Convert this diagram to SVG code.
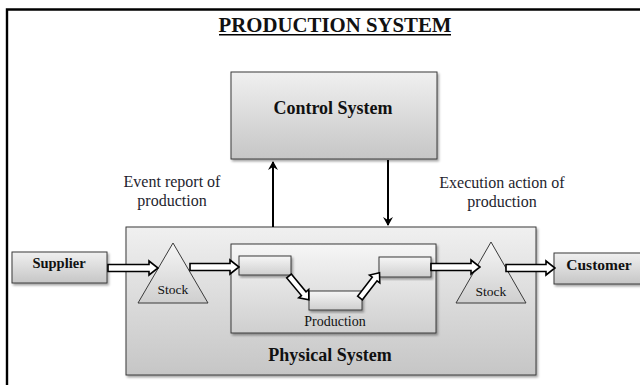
<svg xmlns="http://www.w3.org/2000/svg" width="640" height="385" viewBox="0 0 640 385">
<style>
.box{stroke:#3a3a3a;stroke-width:1;}
.t{font-family:"Liberation Serif","Times New Roman",serif;fill:#111;}
.b{font-weight:bold;}
.lbl{font-family:"Liberation Serif","Times New Roman",serif;fill:#1e1e2e;font-size:16px;}
.blk{fill:#fff;stroke:#000;stroke-width:1.6;stroke-linejoin:miter;}
.thin{stroke:#000;stroke-width:2;fill:none;}
</style>
<defs>
<linearGradient id="g" x1="0" y1="0" x2="0" y2="1">
<stop offset="0" stop-color="#f0f0f0"/>
<stop offset="1" stop-color="#c6c6c6"/>
</linearGradient>
<linearGradient id="g2" x1="0" y1="0" x2="0" y2="1">
<stop offset="0" stop-color="#f6f6f6"/>
<stop offset="1" stop-color="#cfcfcf"/>
</linearGradient>
<filter id="sh" x="-10%" y="-10%" width="125%" height="130%">
<feDropShadow dx="1.5" dy="2" stdDeviation="1.2" flood-color="#000" flood-opacity="0.35"/>
</filter>
<marker id="ah" markerWidth="10" markerHeight="10" refX="8" refY="5" orient="auto" markerUnits="userSpaceOnUse">
<path d="M0,0 L9,5 L0,10 L3,5 Z" fill="#000"/>
</marker>
</defs>
<rect x="0" y="0" width="640" height="385" fill="#fff"/>
<g id="frame">
<path d="M7,385 L7,9.5 L640,9.5" fill="none" stroke="#000" stroke-width="2.4"/>
</g>
<g id="title">
<text class="t b" x="335" y="32" font-size="20.8" text-anchor="middle">PRODUCTION SYSTEM</text>
<line x1="219" y1="34.8" x2="451" y2="34.8" stroke="#000" stroke-width="1.5"/>
</g>
<g id="control-system">
<rect class="box" x="231" y="72" width="206" height="87" fill="url(#g)" filter="url(#sh)"/>
<text class="t b" x="333" y="114" font-size="18" text-anchor="middle">Control System</text>
</g>
<g id="physical-system">
<rect class="box" x="126" y="227" width="410" height="148" fill="url(#g)" filter="url(#sh)"/>
<text class="t b" x="330" y="361" font-size="18" text-anchor="middle">Physical System</text>
</g>
<g id="production">
<rect class="box" x="231" y="244" width="205" height="89" fill="url(#g2)" filter="url(#sh)"/>
<text class="t" x="335" y="326" font-size="14" text-anchor="middle">Production</text>
</g>
<g id="process-1"><rect class="box" x="239" y="256" width="52" height="19" fill="url(#g2)" filter="url(#sh)"/></g>
<g id="process-2"><rect class="box" x="309" y="291" width="53" height="19" fill="url(#g2)" filter="url(#sh)"/></g>
<g id="process-3"><rect class="box" x="379" y="257" width="52" height="20" fill="url(#g2)" filter="url(#sh)"/></g>
<g id="stock-left">
<polygon class="box" points="173,243 208,303 138,303" fill="url(#g2)"/>
<text class="t" x="173" y="294" font-size="13.5" text-anchor="middle">Stock</text>
</g>
<g id="stock-right">
<polygon class="box" points="491,242 526,303 456,303" fill="url(#g2)"/>
<text class="t" x="491" y="296" font-size="13.5" text-anchor="middle">Stock</text>
</g>
<g id="supplier">
<rect class="box" x="12" y="252" width="95" height="31" fill="url(#g)" filter="url(#sh)"/>
<text class="t b" x="59" y="268" font-size="14.5" text-anchor="middle">Supplier</text>
</g>
<g id="customer">
<rect class="box" x="554" y="253" width="92" height="31" fill="url(#g)" filter="url(#sh)"/>
<text class="t b" x="599" y="270" font-size="15.5" text-anchor="middle">Customer</text>
</g>
<g id="labels">
<text class="lbl" x="172" y="187" text-anchor="middle">Event report of</text>
<text class="lbl" x="172" y="206" text-anchor="middle">production</text>
<text class="lbl" x="502" y="188" text-anchor="middle">Execution action of</text>
<text class="lbl" x="502" y="207" text-anchor="middle">production</text>
</g>
<g id="connectors">
<line class="thin" x1="273" y1="227" x2="273" y2="162" marker-end="url(#ah)"/>
<line class="thin" x1="388" y1="160" x2="388" y2="225" marker-end="url(#ah)"/>
<path class="blk" d="M108,264.5 L149,264.5 L149,261 L158,268 L149,275 L149,271.5 L108,271.5 Z"/>
<path class="blk" d="M190,263.5 L230,263.5 L230,260 L239,267 L230,274 L230,270.5 L190,270.5 Z"/>
<path class="blk" d="M431,263.5 L471,263.5 L471,260 L480,267 L471,274 L471,270.5 L431,270.5 Z"/>
<path class="blk" d="M506,264.5 L546,264.5 L546,261 L555,268 L546,275 L546,271.5 L506,271.5 Z"/>
<path class="blk" transform="translate(289,276) rotate(50.2)" d="M0,-3 L23,-3 L23,-6.5 L31,0 L23,6.5 L23,3 L0,3 Z"/>
<path class="blk" transform="translate(360,298) rotate(-52.4)" d="M0,-3 L24,-3 L24,-6.5 L32,0 L24,6.5 L24,3 L0,3 Z"/>
</g>
</svg>
